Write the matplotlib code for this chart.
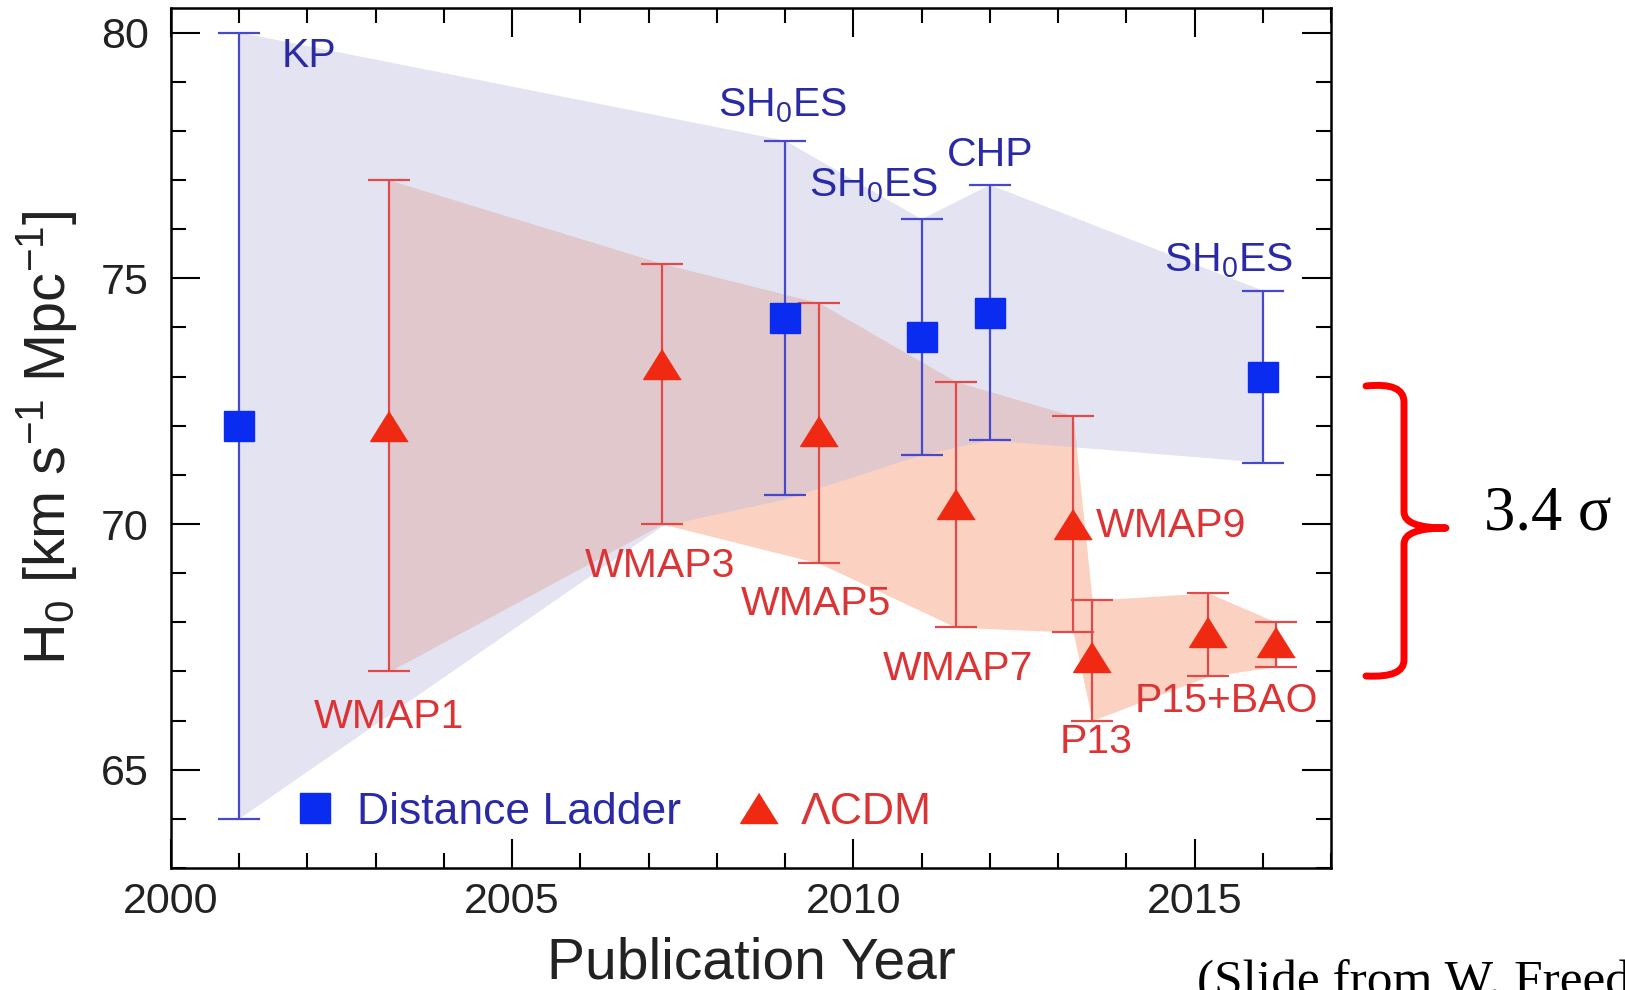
import numpy as np
import matplotlib
matplotlib.use("Agg")
import matplotlib.pyplot as plt
from matplotlib.ticker import MultipleLocator
from matplotlib.lines import Line2D
from matplotlib.path import Path
from matplotlib.patches import PathPatch

plt.rcParams['font.family'] = ['Liberation Sans', 'DejaVu Sans']
plt.rcParams['mathtext.default'] = 'regular'

# Distance ladder measurements (blue squares)
blue_names = ['KP', 'SH$_0$ES', 'SH$_0$ES', 'CHP', 'SH$_0$ES']
blue_x = [2001.0, 2009.0, 2011.0, 2012.0, 2016.0]
blue_y = [72.0, 74.2, 73.8, 74.3, 73.0]
blue_hi = [80.0, 77.8, 76.2, 76.9, 74.75]
blue_lo = [64.0, 70.6, 71.4, 71.7, 71.25]

# LCDM / CMB based values (red triangles)
red_names = ['WMAP1', 'WMAP3', 'WMAP5', 'WMAP7', 'WMAP9', 'P13', 'P15+BAO', '']
red_x = [2003.2, 2007.2, 2009.5, 2011.5, 2013.22, 2013.5, 2015.2, 2016.2]
red_y = [72.0, 73.25, 71.9, 70.4, 70.0, 67.3, 67.8, 67.6]
red_hi = [77.0, 75.3, 74.5, 72.9, 72.2, 68.45, 68.6, 68.0]
red_lo = [67.0, 70.0, 69.2, 67.9, 67.8, 66.0, 66.9, 67.1]

# outline of the blue shaded band
band_up_x = [2001.0, 2009.0, 2011.0, 2012.0, 2016.0]
band_up_y = [80.0, 77.8, 76.2, 76.9, 74.75]
band_lo_x = [2001.0, 2007.2, 2009.0, 2011.0, 2012.0, 2016.0]
band_lo_y = [64.0, 69.95, 70.5, 71.4, 71.7, 71.25]

# label positions (x, y) for the annotations
blue_lab_x = [2001.62, 2008.97, 2010.29, 2012.0, 2015.5]
blue_lab_y = [79.3, 78.3, 76.67, 77.28, 75.14]
blue_lab_ha = ['left', 'center', 'center', 'center', 'center']
red_lab_x = [2003.2, 2007.17, 2009.45, 2011.53, 2013.55, 2013.55, 2015.47, 2016.2]
red_lab_y = [65.85, 68.93, 68.14, 66.83, 69.74, 65.35, 66.18, 0]
red_lab_ha = ['center', 'center', 'center', 'center', 'left', 'center', 'center', 'center']

c_blue_mark = '#0a2cf0'
c_blue_line = '#4848cc'
c_blue_text = '#2a2aa6'
c_red_mark = '#f02a12'
c_red_line = '#e04a48'
c_red_text = '#dc3434'

fig = plt.figure(figsize=(16.25, 9.9), dpi=100)
ax = fig.add_axes([0.1052, 0.1232, 0.7139, 0.8687])

# shaded regions
ax.fill_between(red_x, red_lo, red_hi, color='#fbd2c2', lw=0, zorder=1)
ax.fill(band_up_x + band_lo_x[::-1], band_up_y + band_lo_y[::-1],
        color=(185/255, 185/255, 220/255), alpha=0.4, lw=0, zorder=2)

# error bars
tri = [(0, 0.8), (-1, -0.8), (1, -0.8)]
by = np.array(blue_y)
ax.errorbar(blue_x, by, yerr=[by - np.array(blue_lo), np.array(blue_hi) - by],
            fmt='s', ms=21, mfc=c_blue_mark, mec=c_blue_mark, ecolor=c_blue_line,
            elinewidth=1.6, capsize=15, capthick=1.6, zorder=4)
ry = np.array(red_y)
ax.errorbar(red_x, ry, yerr=[ry - np.array(red_lo), np.array(red_hi) - ry],
            fmt='none', ecolor=c_red_line, elinewidth=1.6, capsize=15,
            capthick=1.6, zorder=3)
ax.plot(red_x, red_y, ls='none', marker=tri, ms=27, color=c_red_mark, zorder=4)

for name, x, y, ha in zip(blue_names, blue_lab_x, blue_lab_y, blue_lab_ha):
    ax.text(x, y, name, color=c_blue_text, fontsize=29.5, ha=ha, va='baseline', zorder=5)
for name, x, y, ha in zip(red_names, red_lab_x, red_lab_y, red_lab_ha):
    if name:
        ax.text(x, y, name, color=c_red_text, fontsize=29.5, ha=ha, va='baseline', zorder=5)

# legend
handles = [Line2D([], [], ls='none', marker='s', ms=21, color=c_blue_mark),
           Line2D([], [], ls='none', marker=tri, ms=27, color=c_red_mark)]
ax.legend(handles, ['Distance Ladder', '\u039bCDM'], loc='center left',
          bbox_to_anchor=(0.105, 0.065), ncol=2, frameon=False, fontsize=32,
          handlelength=1.0, handletextpad=0.45, columnspacing=1.25,
          borderpad=0, borderaxespad=0, labelcolor=[c_blue_text, c_red_text])

ax.set_xlim(2000, 2017)
ax.set_ylim(63, 80.5)
ax.xaxis.set_major_locator(MultipleLocator(5))
ax.xaxis.set_minor_locator(MultipleLocator(1))
ax.yaxis.set_major_locator(MultipleLocator(5))
ax.yaxis.set_minor_locator(MultipleLocator(1))
ax.tick_params(which='both', direction='in', top=True, right=True,
               labelsize=31, labelcolor='#222222', width=1.5)
ax.tick_params(which='major', length=21)
ax.tick_params(which='minor', length=10.5)
ax.tick_params(axis='x', pad=10)
ax.tick_params(axis='y', pad=16)
for s in ax.spines.values():
    s.set_linewidth(1.8)

ax.set_xlabel('Publication Year', fontsize=41, color='#222222')
ax.xaxis.set_label_coords(0.5, -0.128)
ax.xaxis.label.set_va('baseline')
ax.set_ylabel('H$_0$ [km s$^{-1}$ Mpc$^{-1}$]', fontsize=41.5, color='#222222')
ax.yaxis.set_label_coords(-0.079, 0.5)

# curly brace marking the tension
W, H = 1625.0, 990.0
pts = [(1366, 386), (1404, 382), (1404, 402), (1404, 512), (1404, 528), (1446, 528),
       (1404, 528), (1404, 544), (1404, 660), (1404, 678), (1366, 676)]
codes = [Path.MOVETO, Path.CURVE3, Path.CURVE3, Path.LINETO, Path.CURVE3, Path.CURVE3,
         Path.CURVE3, Path.CURVE3, Path.LINETO, Path.CURVE3, Path.CURVE3]
verts = [(px / W, 1 - py / H) for px, py in pts]
brace = PathPatch(Path(verts, codes), transform=fig.transFigure, fill=False,
                  edgecolor='#ff0000', lw=5, capstyle='round', joinstyle='round')
fig.add_artist(brace)

fig.text(1484 / W, 1 - 515 / H, '3.4 \u03c3', fontsize=45, family='Liberation Serif',
         ha='left', va='center')
# the slide credit runs off the page edge, as in the original slide
fig.text(1197 / W, -5 / H, '(Slide from W. Freedman)', fontsize=37,
         family='Liberation Serif', ha='left', va='baseline')

fig.savefig('out.png', dpi=100)
